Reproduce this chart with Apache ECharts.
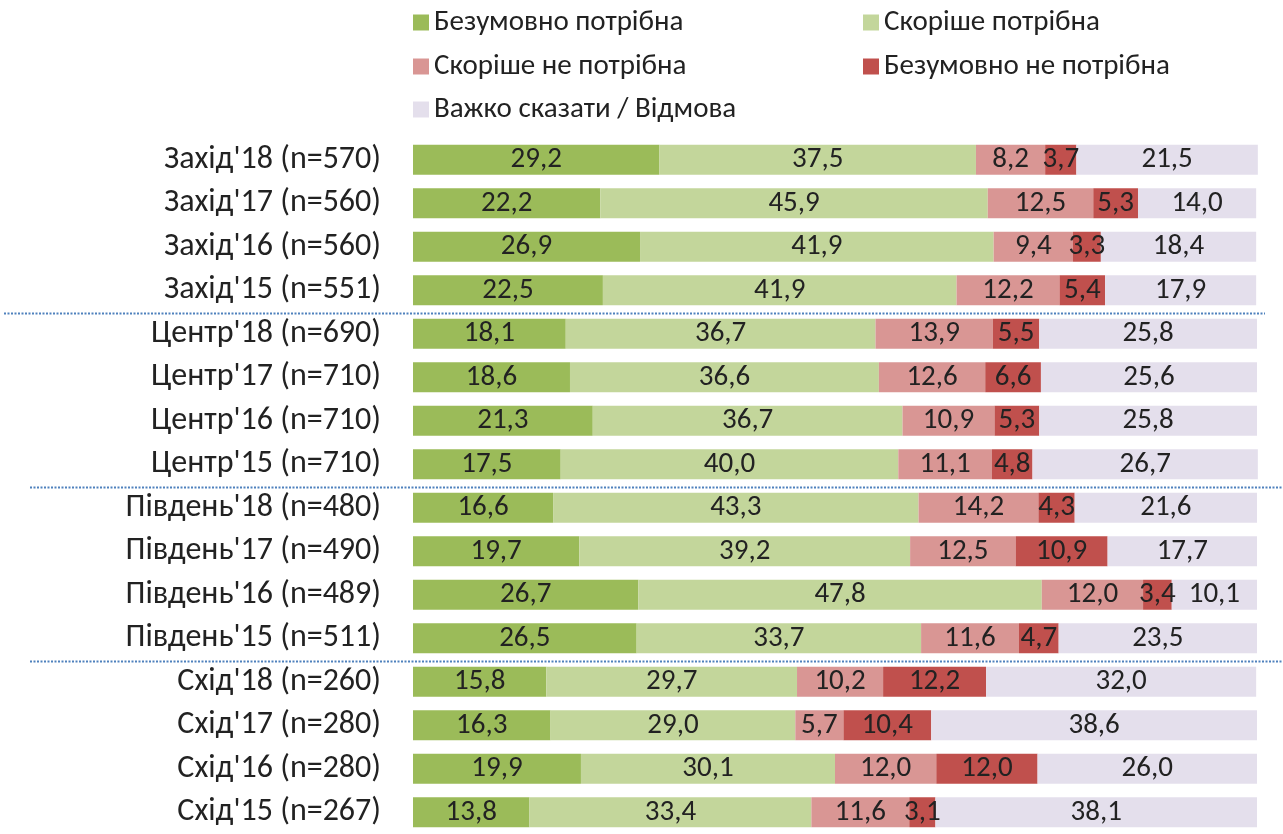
<!DOCTYPE html>
<html>
<head>
<meta charset="utf-8">
<script src="https://cdn.jsdelivr.net/npm/echarts@6/dist/echarts.min.js"></script>
<style>
  html, body { margin: 0; padding: 0; background: #fff; }
  #chart { width: 1283px; height: 834px; }
</style>
</head>
<body>
<div id="chart"></div>
<script>
// rows, top to bottom
const categories = [
  "Захід'18 (n=570)", "Захід'17 (n=560)", "Захід'16 (n=560)", "Захід'15 (n=551)",
  "Центр'18 (n=690)", "Центр'17 (n=710)", "Центр'16 (n=710)", "Центр'15 (n=710)",
  "Південь'18 (n=480)", "Південь'17 (n=490)", "Південь'16 (n=489)", "Південь'15 (n=511)",
  "Схід'18 (n=260)", "Схід'17 (n=280)", "Схід'16 (n=280)", "Схід'15 (n=267)"
]
const seriesNames = [
  'Безумовно потрібна', 'Скоріше потрібна', 'Скоріше не потрібна',
  'Безумовно не потрібна', 'Важко сказати / Відмова'
]
const definitelyYes = [29.2, 22.2, 26.9, 22.5, 18.1, 18.6, 21.3, 17.5, 16.6, 19.7, 26.7, 26.5, 15.8, 16.3, 19.9, 13.8]
const ratherYes = [37.5, 45.9, 41.9, 41.9, 36.7, 36.6, 36.7, 40.0, 43.3, 39.2, 47.8, 33.7, 29.7, 29.0, 30.1, 33.4]
const ratherNo = [8.2, 12.5, 9.4, 12.2, 13.9, 12.6, 10.9, 11.1, 14.2, 12.5, 12.0, 11.6, 10.2, 5.7, 12.0, 11.6]
const definitelyNo = [3.7, 5.3, 3.3, 5.4, 5.5, 6.6, 5.3, 4.8, 4.3, 10.9, 3.4, 4.7, 12.2, 10.4, 12.0, 3.1]
const hardToSay = [21.5, 14.0, 18.4, 17.9, 25.8, 25.6, 25.8, 26.7, 21.6, 17.7, 10.1, 23.5, 32.0, 38.6, 26.0, 38.1]
// group separators drawn after these row indexes
const groupBreaks = [3, 7, 11]

const colors = ['#9BBB59', '#C3D69B', '#D99694', '#C0504D', '#E4DFEC']
const fontFamily = 'Carlito, Calibri, "Open Sans", sans-serif'

const chart = echarts.init(document.getElementById('chart'))

const values = [definitelyYes, ratherYes, ratherNo, definitelyNo, hardToSay]
const legendPos = [
  { left: 408, top: 3 }, { left: 858, top: 3 },
  { left: 408, top: 47 }, { left: 858, top: 47 },
  { left: 408, top: 90 }
]

chart.setOption({
  animation: false,
  color: colors,
  textStyle: { fontFamily: fontFamily },
  legend: seriesNames.map((name, i) => ({
    data: [name],
    left: legendPos[i].left,
    top: legendPos[i].top,
    icon: 'rect',
    itemWidth: 16,
    itemHeight: 16,
    itemGap: 8,
    selectedMode: false,
    textStyle: { fontSize: 29, color: '#222', fontFamily: fontFamily }
  })),
  grid: {
    left: 413,
    right: 26,
    top: 138,
    height: 702,
    containLabel: false
  },
  xAxis: {
    type: 'value',
    min: 0,
    max: 100,
    show: false
  },
  yAxis: {
    type: 'category',
    inverse: true,
    data: categories,
    axisLine: { show: false },
    axisTick: { show: false },
    axisLabel: {
      margin: 32,
      fontSize: 32,
      color: '#222',
      fontFamily: fontFamily
    }
  },
  series: values.map((data, i) => ({
    name: seriesNames[i],
    type: 'bar',
    stack: 'total',
    barWidth: 30,
    clip: false,
    data: data,
    label: {
      show: true,
      position: 'inside',
      fontSize: 29,
      color: '#222',
      fontFamily: fontFamily,
      formatter: p => p.value.toFixed(1).replace('.', ',')
    }
  }))
})

// dotted separators between the region groups
const lineX = [[4, 1265], [30, 1283], [30, 1283]]
const graphics = groupBreaks.map((idx, k) => {
  const a = chart.convertToPixel({ yAxisIndex: 0 }, idx)
  const b = chart.convertToPixel({ yAxisIndex: 0 }, idx + 1)
  const y = Math.round((a + b) / 2) + 1.5
  return {
    type: 'line',
    shape: { x1: lineX[k][0], y1: y, x2: lineX[k][1], y2: y },
    style: { stroke: '#4F81BD', lineWidth: 2, lineDash: [2, 1.5] },
    z: 10
  }
})
chart.setOption({ graphic: graphics })
</script>
</body>
</html>
